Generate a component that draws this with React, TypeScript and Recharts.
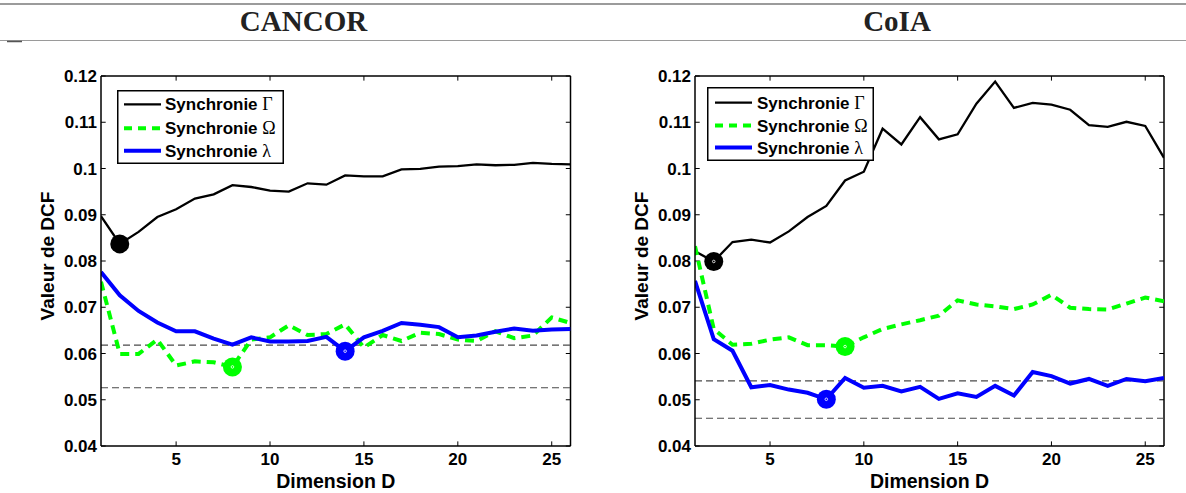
import React from 'react';
import { LineChart, Line, XAxis, YAxis, ReferenceLine, Legend } from 'recharts';

// ---------- data ----------
const dims = [1, 2, 3, 4, 5, 6, 7, 8, 9, 10, 11, 12, 13, 14, 15, 16, 17, 18, 19, 20, 21, 22, 23, 24, 25, 26];

const cancorGamma = [0.0897, 0.0837, 0.0863, 0.0895, 0.0912, 0.0935, 0.0944, 0.0964, 0.0960, 0.0952, 0.0950, 0.0968, 0.0965, 0.0985, 0.0983, 0.0983, 0.0998, 0.0999, 0.1004, 0.1005, 0.1009, 0.1007, 0.1008, 0.1012, 0.1010, 0.1009];
const cancorOmega = [0.0755, 0.0599, 0.0599, 0.0630, 0.0574, 0.0583, 0.0581, 0.0571, 0.0630, 0.0635, 0.0661, 0.0640, 0.0642, 0.0663, 0.0613, 0.0640, 0.0627, 0.0645, 0.0642, 0.0630, 0.0627, 0.0648, 0.0633, 0.0639, 0.0678, 0.0666];
const cancorLambda = [0.0776, 0.0726, 0.0692, 0.0667, 0.0648, 0.0648, 0.0632, 0.0619, 0.0635, 0.0626, 0.0626, 0.0627, 0.0636, 0.0605, 0.0635, 0.0649, 0.0666, 0.0662, 0.0657, 0.0635, 0.0639, 0.0647, 0.0654, 0.0649, 0.0652, 0.0653];
const cancorRefLines = [0.0618, 0.0526];
const cancorMarkers = [2, 8, 14]; // Gamma, Omega, Lambda

const coiaGamma = [0.0821, 0.0799, 0.0841, 0.0846, 0.0840, 0.0864, 0.0895, 0.0919, 0.0974, 0.0993, 0.1086, 0.1052, 0.1111, 0.1063, 0.1074, 0.1140, 0.1188, 0.1131, 0.1142, 0.1138, 0.1127, 0.1094, 0.1090, 0.1101, 0.1092, 0.1023];
const coiaOmega = [0.0832, 0.0653, 0.0619, 0.0621, 0.0630, 0.0635, 0.0618, 0.0618, 0.0615, 0.0635, 0.0653, 0.0663, 0.0672, 0.0682, 0.0715, 0.0706, 0.0702, 0.0696, 0.0706, 0.0727, 0.0699, 0.0696, 0.0695, 0.0708, 0.0721, 0.0713];
const coiaLambda = [0.0757, 0.0631, 0.0606, 0.0527, 0.0532, 0.0522, 0.0515, 0.0501, 0.0547, 0.0526, 0.0530, 0.0518, 0.0528, 0.0502, 0.0514, 0.0506, 0.0530, 0.0509, 0.0560, 0.0551, 0.0535, 0.0545, 0.0530, 0.0545, 0.0540, 0.0547];
const coiaRefLines = [0.0541, 0.0460];
const coiaMarkers = [2, 9, 8];

const yTicks = [0.04, 0.05, 0.06, 0.07, 0.08, 0.09, 0.1, 0.11, 0.12];
const xTicks = [5, 10, 15, 20, 25];
const panelTitles = ['CANCOR', 'CoIA'];
const seriesNames = ['Synchronie ', 'Synchronie ', 'Synchronie '];
const greek = ['\u0393', '\u03A9', '\u03BB'];

// ---------- styles ----------
const SANS = '"Liberation Sans", Arial, Helvetica, sans-serif';
const SERIF = '"Liberation Serif", "Times New Roman", serif';
const GREEN = '#00ff00';
const BLUE = '#0000ff';
const X_MIN = 1;
const X_MAX = 26;
const Y_MIN = 0.04;
const Y_MAX = 0.12;
const TICK_DX = 0.25;
const TICK_DY = 0.001;

const fmtY = (v: number) => String(Number(v.toFixed(2)));

function makeMarkerDot(color: string, markD: number, white: boolean) {
  return (props: any) => {
    const { cx, cy, payload, index } = props;
    if (!payload || payload.d !== markD || cx == null || cy == null) {
      return <g key={`n-${index}`} />;
    }
    return (
      <g key={`m-${index}`}>
        <circle cx={cx} cy={cy} r={9.5} fill={color} stroke="none" />
        {white ? <circle cx={cx} cy={cy} r={1.3} fill="none" stroke="#ffffff" strokeWidth={0.8} /> : null}
      </g>
    );
  };
}

const YLabel = (props: any) => {
  const vb = props.viewBox || { x: 0, y: 0, width: 0, height: 0 };
  const x = vb.x + 54;
  const y = vb.y + vb.height / 2 - 5;
  return (
    <text x={x} y={y} transform={`rotate(-90 ${x} ${y})`} textAnchor="middle" fontFamily={SANS} fontWeight="bold" fontSize={19} fill="#000">
      Valeur de DCF
    </text>
  );
};

const XLabel = (props: any) => {
  const vb = props.viewBox || { x: 0, y: 0, width: 0, height: 0 };
  return (
    <text x={vb.x + vb.width / 2} y={vb.y + 41.5} textAnchor="middle" fontFamily={SANS} fontWeight="bold" fontSize={19.5} fill="#000">
      Dimension D
    </text>
  );
};

function makeLegend(rows: number[], sampleX: [number, number], textX: number) {
  return () => (
    <svg width={167} height={74} style={{ display: 'block' }}>
      <rect x={0.75} y={0.75} width={165.5} height={72.5} fill="#fff" stroke="#000" strokeWidth={1.5} />
      {[0, 1, 2].map((i) => (
        <g key={i}>
          <line
            x1={sampleX[0]}
            x2={sampleX[1]}
            y1={rows[i]}
            y2={rows[i]}
            stroke={i === 0 ? '#000' : i === 1 ? GREEN : BLUE}
            strokeWidth={i === 0 ? 2.3 : 4}
            strokeDasharray={i === 1 ? '8 6' : undefined}
          />
          <text x={textX} y={rows[i] + 6} fontFamily={SANS} fontWeight="bold" fontSize={17} fill="#000">
            {seriesNames[i]}
            <tspan fontFamily={SERIF} fontWeight="normal" fontSize={18}>{greek[i]}</tspan>
          </text>
        </g>
      ))}
    </svg>
  );
}

type PanelProps = {
  gamma: number[];
  omega: number[];
  lambda: number[];
  refLines: number[];
  markers: number[];
  width: number;
  rightMargin: number;
  legendPos: { left: number; top: number };
  legendRows: number[];
  legendSample: [number, number];
  legendTextX: number;
  whiteDots: boolean[];
};

function Panel(p: PanelProps) {
  const data = dims.map((d, i) => ({ d, g: p.gamma[i], o: p.omega[i], l: p.lambda[i] }));
  return (
    <LineChart width={p.width} height={493} data={data} margin={{ top: 76, right: p.rightMargin, bottom: 0, left: 0 }}>
      <XAxis
        dataKey="d"
        type="number"
        domain={[X_MIN, X_MAX]}
        ticks={xTicks}
        allowDataOverflow
        height={47}
        tickLine={false}
        tickSize={0}
        tickMargin={7}
        axisLine={{ stroke: '#000', strokeWidth: 1.5 }}
        tick={{ fontFamily: SANS, fontWeight: 'bold', fontSize: 17, fill: '#000' }}
        label={<XLabel />}
      />
      <YAxis
        type="number"
        domain={[Y_MIN, Y_MAX]}
        ticks={yTicks}
        allowDataOverflow
        width={101}
        tickLine={false}
        tickSize={0}
        tickMargin={4}
        tickFormatter={fmtY}
        axisLine={{ stroke: '#000', strokeWidth: 1.5 }}
        tick={{ fontFamily: SANS, fontWeight: 'bold', fontSize: 17, fill: '#000' }}
        label={<YLabel />}
      />
      <ReferenceLine y={Y_MAX} stroke="#000" strokeWidth={1.5} />
      <ReferenceLine x={X_MAX} stroke="#000" strokeWidth={1.5} />
      {yTicks.map((v) => (
        <ReferenceLine key={`yl-${v}`} segment={[{ x: X_MIN, y: v }, { x: X_MIN + TICK_DX, y: v }]} stroke="#000" strokeWidth={1} />
      ))}
      {yTicks.map((v) => (
        <ReferenceLine key={`yr-${v}`} segment={[{ x: X_MAX - TICK_DX, y: v }, { x: X_MAX, y: v }]} stroke="#000" strokeWidth={1} />
      ))}
      {xTicks.map((v) => (
        <ReferenceLine key={`xb-${v}`} segment={[{ x: v, y: Y_MIN }, { x: v, y: Y_MIN + TICK_DY }]} stroke="#000" strokeWidth={1} />
      ))}
      {xTicks.map((v) => (
        <ReferenceLine key={`xt-${v}`} segment={[{ x: v, y: Y_MAX - TICK_DY }, { x: v, y: Y_MAX }]} stroke="#000" strokeWidth={1} />
      ))}
      {p.refLines.map((v) => (
        <ReferenceLine key={`ref-${v}`} y={v} stroke="#4a4a4a" strokeWidth={1.2} strokeDasharray="7 4" />
      ))}
      <Line type="linear" dataKey="g" stroke="#000" strokeWidth={2.3} isAnimationActive={false} dot={makeMarkerDot('#000', p.markers[0], p.whiteDots[0])} activeDot={false} />
      <Line type="linear" dataKey="o" stroke={GREEN} strokeWidth={4} strokeDasharray="9 6" isAnimationActive={false} dot={makeMarkerDot(GREEN, p.markers[1], p.whiteDots[1])} activeDot={false} />
      <Line type="linear" dataKey="l" stroke={BLUE} strokeWidth={4} isAnimationActive={false} dot={makeMarkerDot(BLUE, p.markers[2], p.whiteDots[2])} activeDot={false} />
      <Legend
        layout="horizontal"
        verticalAlign="middle"
        align="center"
        content={makeLegend(p.legendRows, p.legendSample, p.legendTextX)}
        wrapperStyle={{ position: 'absolute', left: p.legendPos.left, top: p.legendPos.top, width: 167, height: 74 }}
      />
    </LineChart>
  );
}

export default function App() {
  return (
    <div style={{ position: 'absolute', left: 0, top: 0, width: 1186, height: 493, background: '#fff', overflow: 'hidden' }}>
      <svg width={1186} height={45} style={{ position: 'absolute', left: 0, top: 0 }}>
        <line x1={0} x2={1186} y1={4} y2={4} stroke="#7a7a7a" strokeWidth={1.6} />
        <line x1={0} x2={1186} y1={40.5} y2={40.5} stroke="#9a9a9a" strokeWidth={1} />
        <line x1={7} x2={22} y1={41.5} y2={41.5} stroke="#555" strokeWidth={1.5} />
        <text x={303.5} y={30.5} textAnchor="middle" fontFamily={SERIF} fontWeight="bold" fontSize={29} fill="#222">{panelTitles[0]}</text>
        <text x={897} y={30.5} textAnchor="middle" fontFamily={SERIF} fontWeight="bold" fontSize={29} fill="#222">{panelTitles[1]}</text>
      </svg>
      <div style={{ position: 'absolute', left: 0, top: 0 }}>
        <Panel
          gamma={cancorGamma}
          omega={cancorOmega}
          lambda={cancorLambda}
          refLines={cancorRefLines}
          markers={cancorMarkers}
          width={600}
          rightMargin={29.5}
          legendPos={{ left: 117, top: 90 }}
          legendRows={[14.3, 38.3, 60.7]}
          legendSample={[7, 44]}
          legendTextX={48}
          whiteDots={[false, true, true]}
        />
      </div>
      <div style={{ position: 'absolute', left: 594, top: 0 }}>
        <Panel
          gamma={coiaGamma}
          omega={coiaOmega}
          lambda={coiaLambda}
          refLines={coiaRefLines}
          markers={coiaMarkers}
          width={592}
          rightMargin={22}
          legendPos={{ left: 113, top: 87 }}
          legendRows={[15.6, 38.6, 60.6]}
          legendSample={[8, 45]}
          legendTextX={50}
          whiteDots={[true, true, true]}
        />
      </div>
    </div>
  );
}
